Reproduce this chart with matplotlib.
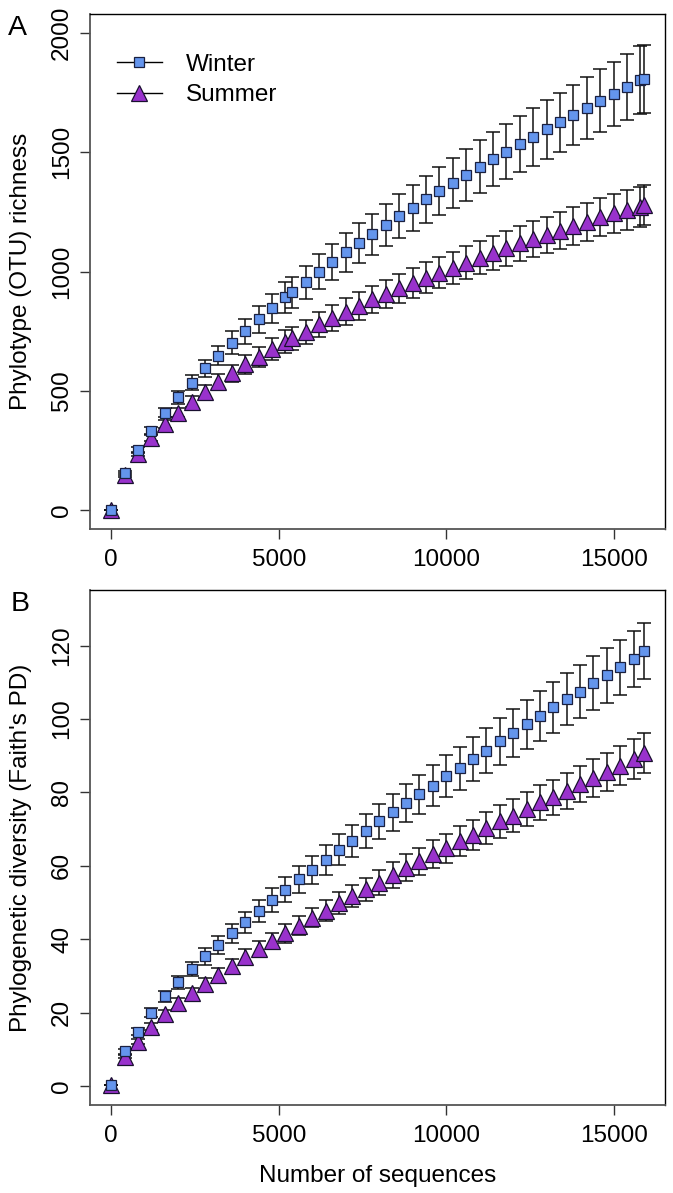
import numpy as np
import matplotlib
matplotlib.use("Agg")
import matplotlib.pyplot as plt
from matplotlib.lines import Line2D

plt.rcParams['font.family'] = ['Liberation Sans', 'DejaVu Sans']

# ---- Panel A: OTU richness ----
seq_a = [0, 400, 800, 1200, 1600, 2000, 2400, 2800, 3200, 3600, 4000, 4400, 4800, 5200,
         5400, 5800, 6200, 6600, 7000, 7400, 7800, 8200, 8600, 9000, 9400, 9800, 10200,
         10600, 11000, 11400, 11800, 12200, 12600, 13000, 13400, 13800, 14200, 14600,
         15000, 15400, 15800, 15900]
winter_a = [0, 154, 252, 333, 408, 472, 534, 594, 647, 702, 750, 800, 846, 892,
            913, 955, 999, 1040, 1080, 1118, 1156, 1195, 1233, 1265, 1303, 1338, 1372,
            1405, 1440, 1470, 1502, 1535, 1565, 1596, 1625, 1656, 1687, 1716,
            1744, 1774, 1803, 1808]
winter_a_err = [0, 8, 12, 16, 20, 26, 31, 36, 41, 47, 52, 56, 60, 64,
                66, 70, 73, 77, 80, 84, 87, 90, 93, 96, 99, 102, 105,
                108, 111, 113, 116, 118, 121, 123, 125, 127, 130, 132,
                135, 138, 142, 144]
summer_a = [0, 147, 235, 300, 360, 408, 454, 496, 538, 573, 611, 643, 675, 706,
            720, 748, 779, 805, 832, 855, 883, 906, 930, 953, 974, 995, 1016,
            1037, 1058, 1079, 1097, 1118, 1135, 1153, 1171, 1191, 1209, 1227,
            1244, 1258, 1272, 1279]
summer_a_err = [0, 7, 10, 13, 16, 20, 24, 28, 32, 36, 40, 42, 45, 47,
                48, 50, 52, 54, 55, 57, 58, 60, 61, 63, 64, 65, 67,
                68, 70, 71, 72, 73, 75, 76, 77, 78, 79, 80,
                81, 83, 84, 85]

# ---- Panel B: Faith's PD ----
seq_b = [0, 400, 800, 1200, 1600, 2000, 2400, 2800, 3200, 3600, 4000, 4400, 4800, 5200,
         5600, 6000, 6400, 6800, 7200, 7600, 8000, 8400, 8800, 9200, 9600, 10000, 10400,
         10800, 11200, 11600, 12000, 12400, 12800, 13200, 13600, 14000, 14400, 14800,
         15200, 15600, 15900]
winter_b = [0.3, 9.4, 14.8, 20.0, 24.4, 28.3, 31.9, 35.3, 38.5, 41.6, 44.6, 47.7, 50.7, 53.5,
            56.3, 58.9, 61.6, 64.4, 66.8, 69.5, 72.1, 74.6, 77.1, 79.5, 81.9, 84.4, 86.6,
            89.1, 91.4, 93.9, 96.2, 98.6, 100.9, 103.2, 105.5, 107.5, 109.8, 111.9,
            114.2, 116.4, 118.6]
winter_b_err = [0, 0.7, 1.0, 1.3, 1.6, 1.8, 2.0, 2.2, 2.4, 2.6, 2.8, 3.0, 3.2, 3.4,
                3.6, 3.8, 4.0, 4.2, 4.4, 4.6, 4.8, 5.0, 5.2, 5.4, 5.5, 5.7, 5.9,
                6.0, 6.2, 6.4, 6.5, 6.7, 6.8, 7.0, 7.1, 7.2, 7.3, 7.4,
                7.5, 7.6, 7.7]
summer_b = [0.3, 8.0, 12.1, 16.2, 19.5, 22.5, 25.3, 27.8, 30.3, 32.7, 35.1, 37.4, 39.5, 41.6,
            43.7, 45.9, 47.8, 49.8, 51.8, 53.6, 55.4, 57.5, 59.5, 61.2, 63.2, 64.8, 66.8,
            68.4, 70.3, 72.1, 73.7, 75.5, 77.3, 78.7, 80.4, 82.3, 83.9, 85.5,
            87.3, 89.1, 90.7]
summer_b_err = [0, 0.5, 0.8, 1.0, 1.2, 1.4, 1.5, 1.7, 1.8, 1.9, 2.1, 2.2, 2.3, 2.5,
                2.6, 2.7, 2.9, 3.0, 3.1, 3.2, 3.4, 3.5, 3.6, 3.7, 3.8, 4.0, 4.1,
                4.2, 4.3, 4.4, 4.5, 4.6, 4.7, 4.8, 4.9, 5.0, 5.1, 5.2,
                5.3, 5.4, 5.5]

x_ticks = [0, 5000, 10000, 15000]
WINTER_COL = '#6495ED'
SUMMER_COL = '#9932CC'
FS = 17.5

fig = plt.figure(figsize=(6.73, 11.93), dpi=100)
ax_a = fig.add_axes([90 / 673, 1 - 529 / 1193, 575 / 673, 515 / 1193])
ax_b = fig.add_axes([90 / 673, 1 - 1105 / 1193, 575 / 673, 515 / 1193])


def draw_panel(ax, x, w, we, s, se, ylim, yticks):
    ax.errorbar(x, s, yerr=se, fmt='none', ecolor='#111111', elinewidth=1.1,
                capsize=5, capthick=1.1, zorder=2)
    ax.plot(x, s, linestyle='none', marker='^', markersize=11,
            markerfacecolor=SUMMER_COL, markeredgecolor='#1a1030',
            markeredgewidth=0.9, zorder=3)
    ax.errorbar(x, w, yerr=we, fmt='none', ecolor='#111111', elinewidth=1.1,
                capsize=5, capthick=1.1, zorder=4)
    ax.plot(x, w, linestyle='none', marker='s', markersize=7.8,
            markerfacecolor=WINTER_COL, markeredgecolor='#1a2040',
            markeredgewidth=0.9, zorder=5)
    pad = 0.04 * (15900 - 0)
    ax.set_xlim(0 - pad, 15900 + pad)
    ypad = 0.04 * (ylim[1] - ylim[0])
    ax.set_ylim(ylim[0] - ypad, ylim[1] + ypad)
    ax.set_xticks(x_ticks)
    ax.set_xticklabels([str(t) for t in x_ticks])
    ax.set_yticks(yticks)
    ax.set_yticklabels([str(t) for t in yticks], rotation=90, va='center')
    ax.tick_params(axis='both', length=7.2, width=1, labelsize=FS, color='#333333')
    ax.tick_params(axis='x', pad=7)
    ax.tick_params(axis='y', pad=5)
    for side in ['top', 'right']:
        ax.spines[side].set_color('black')
        ax.spines[side].set_linewidth(1.0)
    for side in ['left', 'bottom']:
        ax.spines[side].set_color('#555555')
        ax.spines[side].set_linewidth(1.3)


draw_panel(ax_a, seq_a, winter_a, winter_a_err, summer_a, summer_a_err,
           (0, 2000), [0, 500, 1000, 1500, 2000])
draw_panel(ax_b, seq_b, winter_b, winter_b_err, summer_b, summer_b_err,
           (0, 130), [0, 20, 40, 60, 80, 100, 120])

ax_a.set_ylabel('Phylotype (OTU) richness', fontsize=FS)
ax_b.set_ylabel("Phylogenetic diversity (Faith's PD)", fontsize=FS)
ax_b.set_xlabel('Number of sequences', fontsize=FS, labelpad=13)
ax_a.yaxis.set_label_coords(-58 / 575, 0.5)
ax_b.yaxis.set_label_coords(-58 / 575, 0.5)

fig.text(17 / 673, 1 - 28 / 1193, 'A', fontsize=20.5, ha='center', va='center')
fig.text(20 / 673, 1 - 604 / 1193, 'B', fontsize=20.5, ha='center', va='center')

handles = [
    Line2D([], [], color='black', lw=1, marker='s', markersize=7.8,
           markerfacecolor=WINTER_COL, markeredgecolor='#1a2040', markeredgewidth=0.9),
    Line2D([], [], color='black', lw=1, marker='^', markersize=11,
           markerfacecolor=SUMMER_COL, markeredgecolor='#1a1030', markeredgewidth=0.9),
]
ax_a.legend(handles, ['Winter', 'Summer'], loc='center left',
            bbox_to_anchor=(117 / 673, 1 - 80 / 1193), bbox_transform=fig.transFigure,
            frameon=False, fontsize=FS, handlelength=1.85, handletextpad=1.0,
            labelspacing=0.33, borderpad=0, borderaxespad=0)

fig.savefig('out.png', dpi=100)
